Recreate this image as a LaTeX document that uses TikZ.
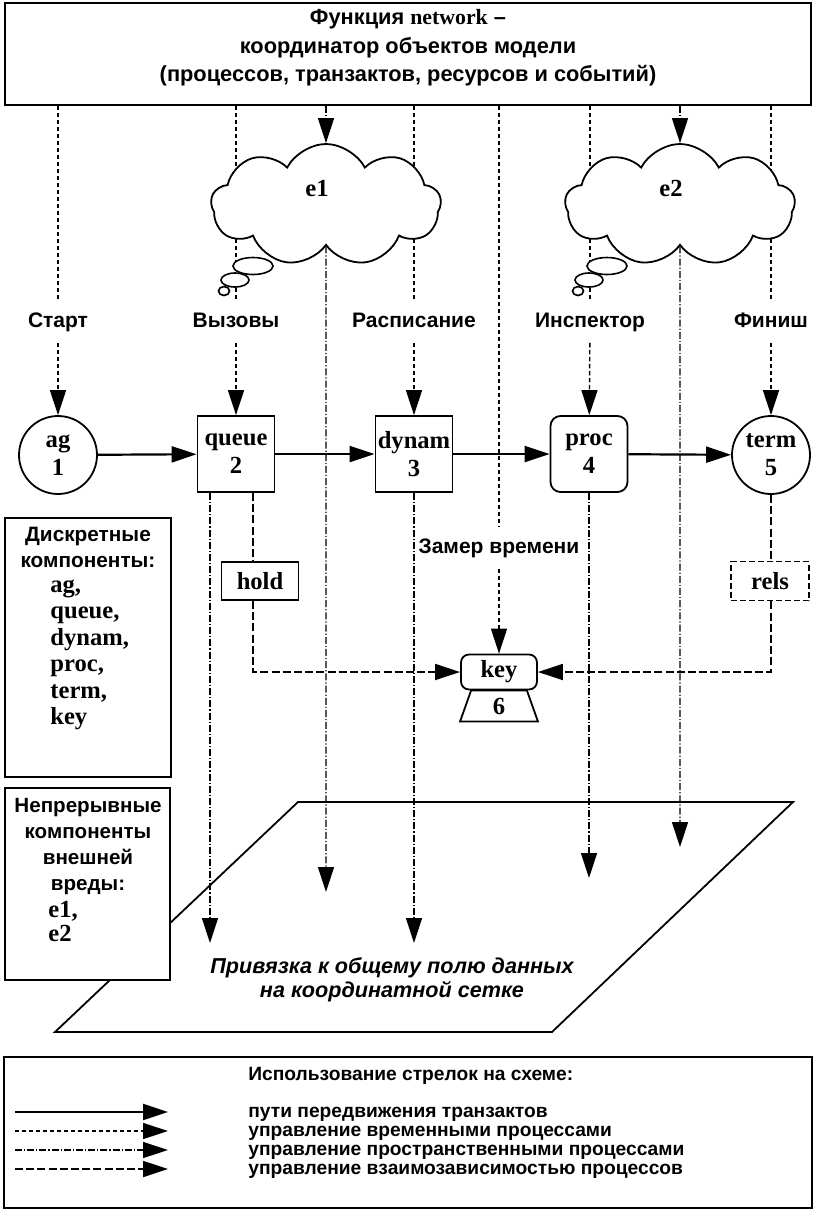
\documentclass[tikz,border=0pt]{standalone}
\usepackage{fontspec}
\setmainfont{Liberation Serif}
\newfontfamily\rufont{Liberation Sans}
\usetikzlibrary{arrows.meta,shapes.geometric,shapes.symbols}
\pgfdeclarelayer{bglayer}
\pgfdeclarelayer{linelayer}
\pgfsetlayers{bglayer,linelayer,main}
\begin{document}
\begin{tikzpicture}[x=0.5pt,y=-0.5pt,
  tri/.style={-{Triangle[length=12.5pt,width=8pt]}},
  flow/.style={line width=1.1pt,tri},
  timeln/.style={line width=0.7pt,dash pattern=on 2.2pt off 1.3pt},
  spaceln/.style={line width=0.7pt,dash pattern=on 3.5pt off 1pt on 0.6pt off 1pt},
  depln/.style={line width=0.9pt,dash pattern=on 4pt off 1.6pt},
  box/.style={draw,line width=0.9pt,fill=white},
  lbl/.style={font=\rufont\bfseries\fontsize{10.5}{14}\selectfont,text height=8pt,text depth=2.5pt,inner xsep=2pt,inner ysep=5pt},
  ent/.style={font=\bfseries\fontsize{12.3}{14}\selectfont},
  sq/.style={box,minimum width=38.5pt,minimum height=38pt,inner sep=0pt,align=center,ent},
  circ/.style={box,circle,minimum size=39pt,inner sep=0pt,align=center,ent},
  cl/.style={box,cloud,cloud puffs=9,cloud puff arc=125,cloud ignores aspect,minimum width=115pt,minimum height=61pt},
  bub/.style={box,ellipse,inner sep=0pt,line width=0.8pt},
  lgt/.style={anchor=west,inner sep=0pt,font=\rufont\bfseries\fontsize{9.6}{12}\selectfont,text height=7.5pt,text depth=2pt},
]
\useasboundingbox (0,0) rectangle (814,1212);

% ---- top box
\node[box,minimum width=403pt,minimum height=51pt] (top) at (408,54) {};
\node[align=center,font=\rufont\bfseries\fontsize{10.9}{14.2}\selectfont] (toptext) at (408,48)
  {Функция {\rmfamily network} –\\координатор объектов модели\\(процессов, транзактов, ресурсов и событий)};

% ---- clouds
\node[cl] (e1) at (326,205) {};
\node[ent] (e1l) at (317,188) {e1};
\node[bub,minimum width=20pt,minimum height=8.5pt] (e1b1) at (253,266) {};
\node[bub,minimum width=14pt,minimum height=7pt] (e1b2) at (235,280) {};
\node[bub,minimum width=5.5pt,minimum height=4.5pt] (e1b3) at (224,291) {};
\node[cl] (e2) at (680,205) {};
\node[ent] (e2l) at (671,188) {e2};
\node[bub,minimum width=20pt,minimum height=8.5pt] (e2b1) at (607,266) {};
\node[bub,minimum width=14pt,minimum height=7pt] (e2b2) at (589,280) {};
\node[bub,minimum width=5.5pt,minimum height=4.5pt] (e2b3) at (578,291) {};

% ---- labels
\node[lbl] (lstart) at (58,322) {Старт};
\node[lbl] (lcalls) at (236,322) {Вызовы};
\node[lbl] (lsched) at (414,322) {Расписание};
\node[lbl] (linsp) at (590,322) {Инспектор};
\node[lbl] (lfin) at (771,322) {Финиш};
\node[lbl] (zamer) at (499,548) {Замер времени};

% ---- flow nodes
\node[circ] (ag) at (58,455) {ag\\1};
\node[sq] (queue) at (236,454) {queue\\2};
\node[sq] (dynam) at (414,454) {dynam\\3};
\node[sq,rounded corners=5pt] (proc) at (589,454) {proc\\4};
\node[circ] (term) at (771,455) {term\\5};

% ---- hold, rels, key
\node[box,minimum width=38.5pt,minimum height=19pt,inner sep=0pt,ent] (hold) at (260,581) {hold};
\node[draw,fill=white,line width=0.9pt,dash pattern=on 3pt off 1.5pt,minimum width=39pt,minimum height=19.5pt,inner sep=0pt,ent] (rels) at (770,581) {rels};
\node[box,rounded corners=4pt,minimum width=38pt,minimum height=17.5pt,inner sep=0pt,ent] (key) at (499,672) {key};
\draw[line width=0.9pt,fill=white] ([xshift=5.5pt]key.south west) -- ([yshift=-15.5pt]key.south west)
  -- ([yshift=-15.5pt]key.south east) -- ([xshift=-5.5pt]key.south east) -- cycle;
\node[ent] (k6) at ([yshift=-8pt]key.south) {6};

% ---- left boxes
\node[box,minimum width=83pt,minimum height=129.5pt] (disc) at (88,647.5) {};
\node[align=center,font=\rufont\bfseries\fontsize{10.4}{13}\selectfont] (discH) at (88,547) {Дискретные\\компоненты:};
\node[align=left,anchor=west,inner sep=0pt,font=\bfseries\fontsize{12.3}{13.25}\selectfont] (discL) at (50,655) {ag,\\queue,\\dynam,\\proc,\\term,\\key};
\node[box,minimum width=82.5pt,minimum height=96pt] (cont) at (87.5,884) {};
\node[align=center,font=\rufont\bfseries\fontsize{10.3}{13}\selectfont] (contH) at (88,847) {Непрерывные\\компоненты\\внешней\\вреды:};
\node[align=left,anchor=west,inner sep=0pt,font=\bfseries\fontsize{12.3}{12}\selectfont] (contL) at (48,921) {e1,\\e2};

% ---- end points of spatial arrows
\coordinate (qend) at (210,943);
\coordinate (e1end) at (326,892);
\coordinate (dend) at (414,943);
\coordinate (pend) at (589,878);
\coordinate (e2end) at (680,847);
\coordinate (hq) at (253,0);

% ---- data field (parallelogram)
\begin{pgfonlayer}{bglayer}
\draw[line width=0.9pt,fill=white] (298,802) -- (793,802) -- (552,1032) -- (55,1032) -- cycle;
\end{pgfonlayer}
\node[align=center,font=\rufont\bfseries\itshape\fontsize{10.8}{12}\selectfont] (field) at (392,980)
  {Привязка к общему полю данных\\на координатной сетке};

% ---- connectors
\begin{pgfonlayer}{linelayer}
\draw[timeln] (top.south -| lstart) -- (lstart);
\draw[timeln,tri] (lstart) -- (ag);
\draw[timeln] (top.south -| lcalls) -- (lcalls);
\draw[timeln,tri] (lcalls) -- (queue);
\draw[timeln] (top.south -| lsched) -- (lsched);
\draw[timeln,tri] (lsched) -- (dynam);
\draw[timeln] (top.south -| linsp) -- (linsp);
\draw[timeln,tri] (linsp) -- (proc);
\draw[timeln] (top.south -| lfin) -- (lfin);
\draw[timeln,tri] (lfin) -- (term);
\draw[timeln] (top.south -| zamer) -- (zamer);
\draw[timeln,tri] (zamer) -- (key);

\draw[spaceln,tri] (top.south -| e1) -- (e1.north);
\draw[spaceln,tri] (top.south -| e2) -- (e2.north);
\draw[spaceln,tri] (e1.south) -- (e1end);
\draw[spaceln,tri] (e2.south) -- (e2end);
\draw[spaceln,tri] (queue.south -| qend) -- (qend);
\draw[spaceln,tri] (dynam.south) -- (dend);
\draw[spaceln,tri] (proc.south) -- (pend);

\draw[flow] (ag) -- (queue);
\draw[flow] (queue) -- (dynam);
\draw[flow] (dynam) -- (proc);
\draw[flow] (proc) -- (term);

\draw[depln] (queue.south -| hq) -- (hold.north -| hq);
\draw[depln,tri] (hold.south -| hq) |- (key.west);
\draw[depln] (term.south) -- (rels.north -| term.south);
\draw[depln,tri] (rels.south -| term.south) |- (key.east);
\end{pgfonlayer}

% ---- legend
\node[box,minimum width=404pt,minimum height=75.5pt] (legend) at (408,1132.5) {};
\node[lgt] (lt0) at (248,1075) {Использование стрелок на схеме:};
\node[lgt] (lt1) at (248,1112) {пути передвижения транзактов};
\node[lgt] (lt2) at (248,1131) {управление временными процессами};
\node[lgt] (lt3) at (248,1150) {управление пространственными процессами};
\node[lgt] (lt4) at (248,1169) {управление взаимозависимостью процессов};
\coordinate (la1) at (15,1112); \coordinate (lb1) at (168,1112);
\coordinate (la2) at (15,1131); \coordinate (lb2) at (168,1131);
\coordinate (la3) at (15,1150); \coordinate (lb3) at (168,1150);
\coordinate (la4) at (15,1169); \coordinate (lb4) at (168,1169);
\draw[flow] (la1) -- (lb1);
\draw[timeln,tri] (la2) -- (lb2);
\draw[spaceln,tri] (la3) -- (lb3);
\draw[depln,tri] (la4) -- (lb4);
\end{tikzpicture}
\end{document}
